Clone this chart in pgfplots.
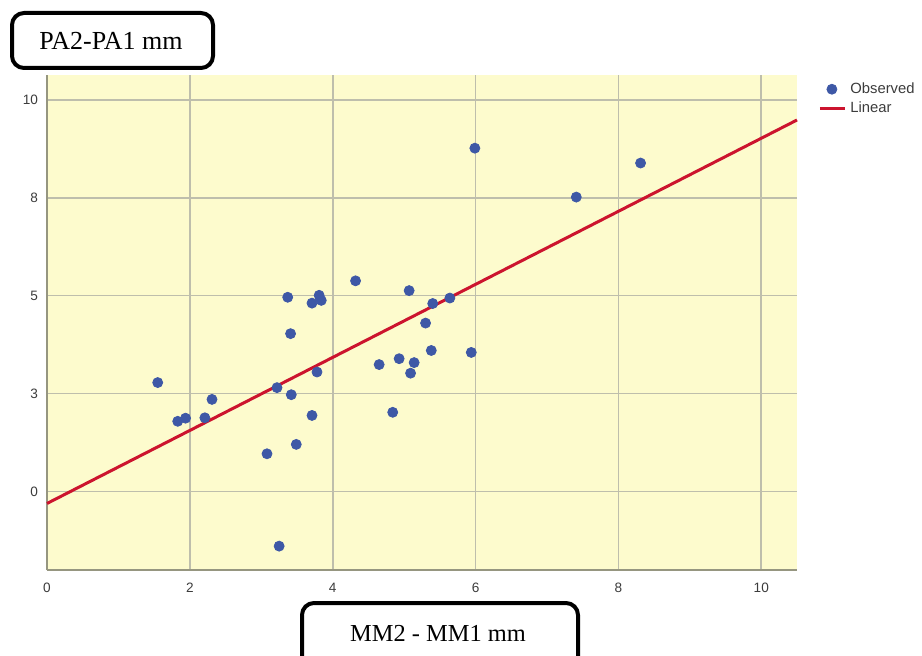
\documentclass[border=0pt]{standalone}
\usepackage{pgfplots}
\pgfplotsset{compat=1.18}
\usepackage{fontspec}
\setmainfont{Liberation Sans}
\newfontfamily\timesfont{Liberation Serif}

\definecolor{bgyellow}{RGB}{253,251,205}
\definecolor{gridgray}{RGB}{190,190,172}
\definecolor{axisgray}{RGB}{150,150,128}
\definecolor{dotblue}{RGB}{62,88,166}
\definecolor{fitred}{RGB}{204,20,46}
\definecolor{labelgray}{RGB}{60,60,60}

\begin{document}
\begin{tikzpicture}
\useasboundingbox (0,0) rectangle (461pt,327.5pt);

\begin{axis}[
    at={(23.5pt,42.5pt)}, anchor=south west,
    scale only axis,
    width=375pt, height=247.5pt,
    xmin=0, xmax=10.5,
    ymin=-2.01, ymax=10.64,
    axis x line*=bottom, axis y line*=left,
    axis line style={axisgray, line width=0.8pt, -},
    axis background/.style={fill=bgyellow},
    xtick={0,2,4,6,8,10},
    ytick={0,2.5,5,7.5,10},
    yticklabels={0,3,5,8,10},
    major tick length=0pt,
    grid=major,
    major grid style={gridgray, line width=0.8pt},
    tick label style={font=\fontsize{6.8}{8}\selectfont, text=labelgray},
    /pgf/number format/assume math mode=true,
    xticklabel style={yshift=-3pt},
    yticklabel style={xshift=-1pt},
    clip=false,
    legend style={at={(1.028,0.994)}, anchor=north west, draw=none, fill=none,
        font=\fontsize{7.4}{8.6}\selectfont, text=labelgray,
        row sep=-1.4pt, inner sep=0pt},
    legend cell align=left,
]
\addplot[only marks, mark=*, mark size=2.5pt, color=dotblue,
    legend image code/.code={\draw[mark=*, mark size=2.5pt, fill=dotblue, draw=dotblue] plot coordinates {(6pt,0pt)};}]
coordinates {
    (1.55,2.78) (1.83,1.79) (1.94,1.87) (2.21,1.88) (2.31,2.35)
    (3.22,2.65) (3.08,0.96) (3.25,-1.40) (3.37,4.96) (3.41,4.03)
    (3.42,2.47) (3.49,1.20) (3.71,4.81) (3.71,1.94) (3.81,5.01)
    (3.84,4.88) (3.78,3.05) (4.32,5.38) (4.65,3.24) (4.84,2.02)
    (4.93,3.39) (5.07,5.13) (5.09,3.02) (5.14,3.29) (5.30,4.30)
    (5.40,4.80) (5.38,3.60) (5.64,4.94) (5.94,3.55) (5.99,8.77)
    (7.41,7.52) (8.31,8.39)
};
\addlegendentry{Observed}
\addplot[fitred, line width=1.5pt,
    legend image code/.code={\draw[fitred, line width=1.5pt] (0pt,0pt) -- (12.5pt,0pt);}]
coordinates {(0,-0.31) (10.5,9.49)};
\addlegendentry{Linear}
\end{axis}

% axis title boxes
\draw[line width=2pt, rounded corners=6pt] (6pt,293.5pt) rectangle (106.5pt,321pt);
\node[font=\timesfont\fontsize{13}{15}\selectfont] at (55.5pt,307pt) {PA2-PA1 mm};
\draw[line width=2pt, rounded corners=6pt] (151pt,-15pt) rectangle (289pt,26pt);
\node[font=\timesfont\fontsize{12.2}{14}\selectfont] at (219pt,11pt) {MM2 - MM1 mm};
\end{tikzpicture}
\end{document}
